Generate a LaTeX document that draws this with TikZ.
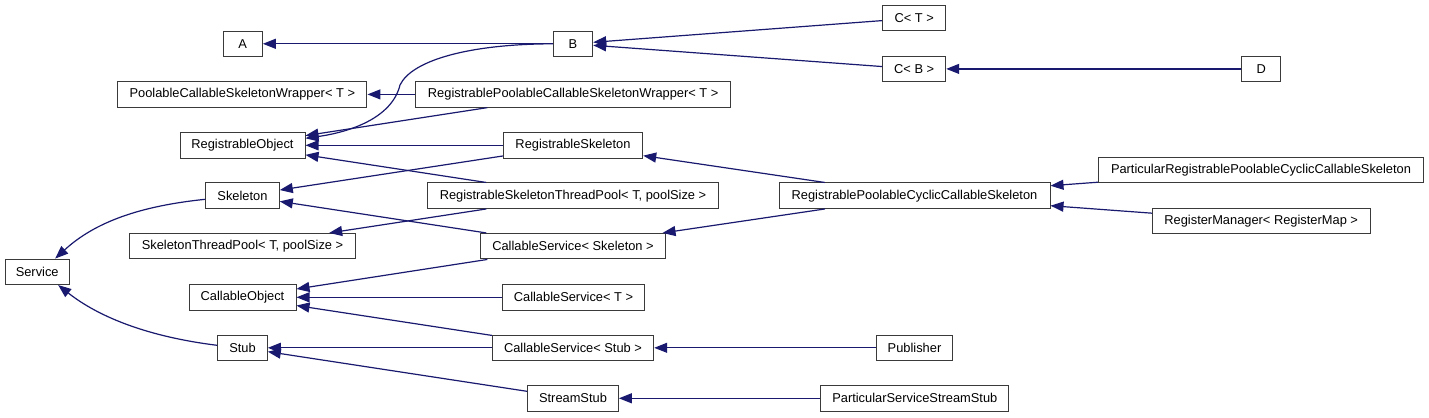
\documentclass[tikz,border=0pt]{standalone}
\usepackage{fontspec}
\setmainfont{Liberation Sans}
\usetikzlibrary{arrows.meta}
\definecolor{edgeblue}{HTML}{191970}
\definecolor{boxline}{HTML}{3A3A3A}
\tikzset{
  cls/.style={draw=boxline, fill=white, line width=1bp, minimum height=25.5bp,
    inner sep=0pt, font=\fontsize{12.9}{15}\selectfont},
  inh/.style={draw=edgeblue, line width=1.2bp,
    -{Triangle[length=13bp,width=10bp,fill=edgeblue]}},
}
\begin{document}
\begin{tikzpicture}[x=1bp,y=-1bp]
\useasboundingbox[fill=white] (0,0) rectangle (1429,417);
% nodes
\node[cls, minimum width=39.3bp]  (A)      at (242.7,43.8)  {A};
\node[cls, minimum width=39.4bp]  (B)      at (573,43.8)    {B};
\node[cls, minimum width=63bp]    (CT)     at (914.2,18.2)  {C< T >};
\node[cls, minimum width=63bp]    (CB)     at (914.2,68.9)  {C< B >};
\node[cls, minimum width=39bp]    (D)      at (1261.2,68.9) {D};
\node[cls, minimum width=249.3bp] (PCSW)   at (242.3,94.4)  {PoolableCallableSkeletonWrapper< T >};
\node[cls, minimum width=315bp]   (RPCSW)  at (573.2,94.4)  {RegistrablePoolableCallableSkeletonWrapper< T >};
\node[cls, minimum width=125bp]   (RO)     at (242.5,145.3) {RegistrableObject};
\node[cls, minimum width=139.4bp] (RS)     at (573,145.3)   {RegistrableSkeleton};
\node[cls, minimum width=73.6bp]  (Skel)   at (242.5,195.7) {Skeleton};
\node[cls, minimum width=291.4bp] (RSTP)   at (573,195.7)   {RegistrableSkeletonThreadPool< T, poolSize >};
\node[cls, minimum width=271bp]   (RPCCS)  at (914.5,195.7) {RegistrablePoolableCyclicCallableSkeleton};
\node[cls, minimum width=325.4bp] (PRPCCS) at (1261,170.2)  {ParticularRegistrablePoolableCyclicCallableSkeleton};
\node[cls, minimum width=217.7bp] (RM)     at (1261.2,221.2) {RegisterManager< RegisterMap >};
\node[cls, minimum width=226.4bp] (STP)    at (242.5,246.2) {SkeletonThreadPool< T, poolSize >};
\node[cls, minimum width=185.4bp] (CSSk)   at (573,246.2)   {CallableService< Skeleton >};
\node[cls, minimum width=64.3bp]  (Service) at (37.2,271.8) {Service};
\node[cls, minimum width=107bp]   (CO)     at (242.5,297.3) {CallableObject};
\node[cls, minimum width=142bp]   (CST)    at (573.5,297.3) {CallableService< T >};
\node[cls, minimum width=49.6bp]  (Stub)   at (242.5,347.8) {Stub};
\node[cls, minimum width=161.4bp] (CSSt)   at (573,347.8)   {CallableService< Stub >};
\node[cls, minimum width=76bp]    (Pub)    at (914.5,347.8) {Publisher};
\node[cls, minimum width=90.7bp]  (SS)     at (573,398.3)   {StreamStub};
\node[cls, minimum width=188.3bp] (PSSS)   at (914.8,398.3) {ParticularServiceStreamStub};
% edges (arrow at base class)
\draw[inh] (B) -- (A);
\draw[inh] (CT) -- (B);
\draw[inh] (CB) -- (B);
\draw[inh] (D) -- (CB);
\draw[inh] (RPCSW) -- (PCSW);
\draw[inh] (RPCSW) -- (RO);
\draw[inh] (B.west) .. controls (470,44) and (412,60) .. (400,85)
                    .. controls (392,118) and (350,132) .. ([yshift=7bp]RO.east);
\draw[inh] (RS) -- (RO);
\draw[inh] (RSTP) -- (RO);
\draw[inh] (RS) -- (Skel);
\draw[inh] (CSSk) -- (Skel);
\draw[inh] (RSTP) -- (STP);
\draw[inh] (RPCCS) -- (RS);
\draw[inh] (RPCCS) -- (CSSk);
\draw[inh] (PRPCCS) -- (RPCCS);
\draw[inh] (RM) -- (RPCCS);
\draw[inh] ([yshift=-3.6bp]Skel.west) .. controls (140,206) and (95,222) .. ([xshift=18bp]Service.north);
\draw[inh] ([yshift=2.5bp]Stub.west) .. controls (150,337) and (100,318) .. ([xshift=21bp]Service.south);
\draw[inh] (CSSk) -- (CO);
\draw[inh] (CST) -- (CO);
\draw[inh] (CSSt) -- (CO);
\draw[inh] (CSSt) -- (Stub);
\draw[inh] (SS) -- (Stub);
\draw[inh] (Pub) -- (CSSt);
\draw[inh] (PSSS) -- (SS);
\end{tikzpicture}
\end{document}
